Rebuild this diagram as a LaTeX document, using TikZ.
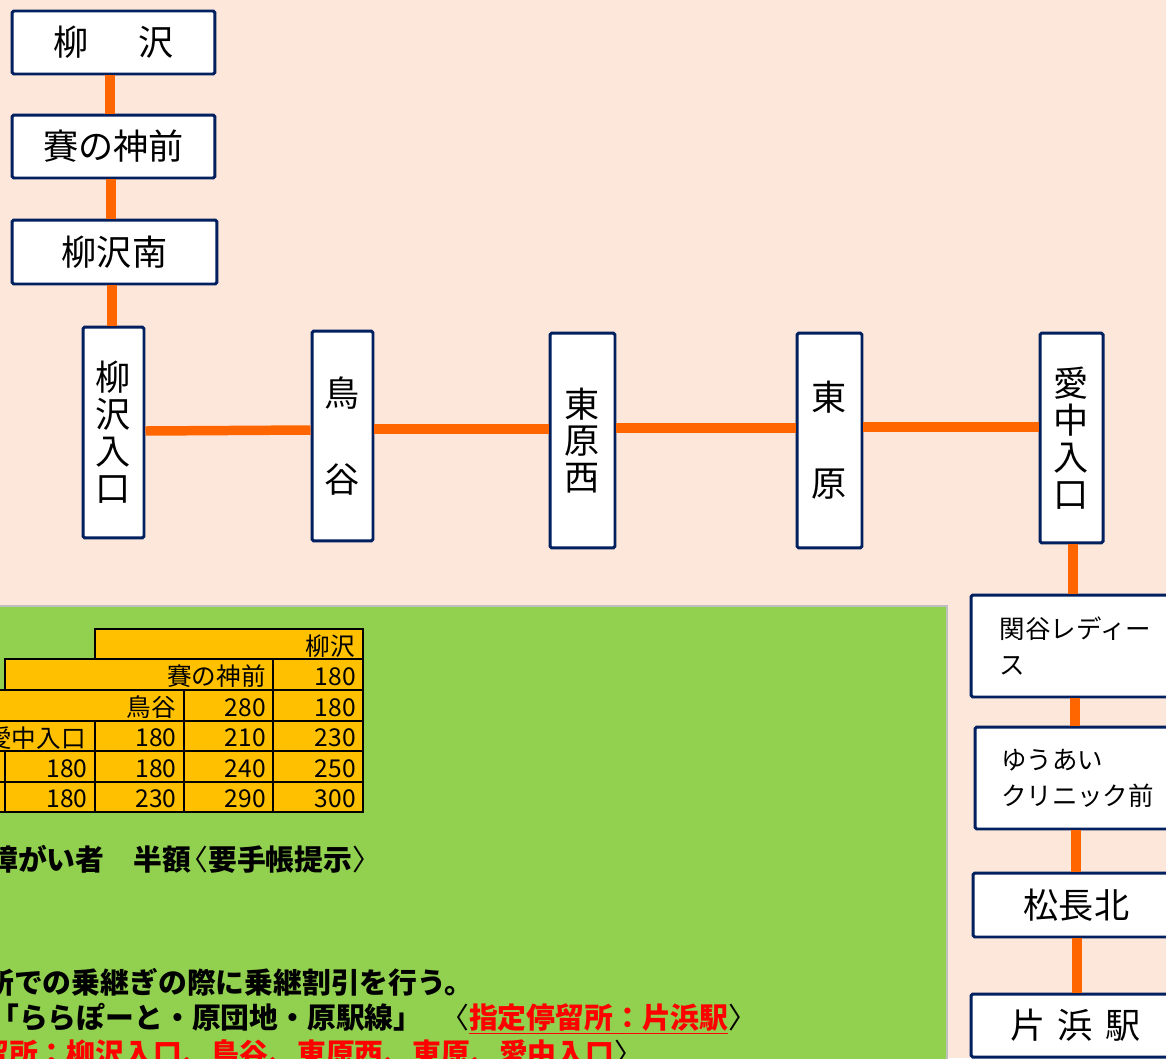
\documentclass[tikz,border=0pt]{standalone}
\usepackage{fontspec}
\setmainfont{Noto Sans CJK JP}
\definecolor{peach}{HTML}{FCE7DA}
\definecolor{panelgreen}{HTML}{92D050}
\definecolor{panelgray}{HTML}{BFBFBF}
\definecolor{tableorange}{HTML}{FFC000}
\definecolor{lineorange}{HTML}{FF6600}
\definecolor{navy}{HTML}{002060}
\begin{document}
\begin{tikzpicture}[x=0.02cm,y=-0.02cm,
    stopbox/.style={draw=navy,line width=1.7pt,fill=white,rounded corners=1pt,inner sep=0pt,align=center,font=\fontsize{20}{21}\selectfont},
    route/.style={draw=lineorange,line width=5.4pt},
    cell/.style={draw=black,line width=1.1pt,fill=tableorange},
    fare/.style={anchor=east,inner sep=0pt,font=\fontsize{14}{16}\selectfont},
    notetext/.style={anchor=base west,inner sep=0pt,font=\fontsize{16.4}{18}\selectfont\bfseries}]
    \useasboundingbox (0,0) rectangle (1166,1058);
    \clip (0,0) rectangle (1166,1058);
    \fill[peach] (0,0) rectangle (1166,1058);
    \draw[draw=panelgray,line width=1pt,fill=panelgreen] (-10,606) rectangle (947,1080);

    % stops
    \node[stopbox,minimum width=4.06cm,minimum height=1.26cm] (yz) at (113.5,42.5) {柳\hspace{1.4em}沢};
    \node[stopbox,minimum width=4.06cm,minimum height=1.26cm] (sai) at (113.5,146.5) {賽の神前};
    \node[stopbox,minimum width=4.1cm,minimum height=1.28cm] (yzm) at (114.5,252) {柳沢南};
    \node[stopbox,minimum width=1.22cm,minimum height=4.22cm] (yzi) at (113.5,432.5) {柳\\沢\\入\\口};
    \node[stopbox,minimum width=1.22cm,minimum height=4.2cm] (tor) at (342.5,436) {鳥\\[28pt]谷};
    \node[stopbox,minimum width=1.3cm,minimum height=4.3cm] (hhn) at (582.5,440.5) {東\\原\\西};
    \node[stopbox,minimum width=1.3cm,minimum height=4.3cm] (hig) at (829.5,440.5) {東\\[27.8pt]原};
    \node[stopbox,minimum width=1.26cm,minimum height=4.2cm] (aic) at (1071.5,438) {愛\\中\\入\\口};
    \node[stopbox,align=left,font=\fontsize{14.5}{20}\selectfont,minimum width=4.18cm,minimum height=2.04cm] (skt) at (1075.5,646) {関谷レディー\\ス};
    \node[stopbox,align=left,font=\fontsize{14.5}{20.4}\selectfont,minimum width=4.1cm,minimum height=2.04cm] (yua) at (1077.5,778) {ゆうあい\\クリニック前};
    \node[stopbox,minimum width=4.14cm,minimum height=1.28cm] (mtn) at (1076.5,905) {松長北};
    \node[stopbox,minimum width=4.18cm,minimum height=1.26cm] (kts) at (1075.5,1025.5) {片\hspace{.35em}浜\hspace{.35em}駅};

    % route
    \draw[route] (yz.south -| 110,0) -- (sai.north -| 110,0);
    \draw[route] (sai.south -| 111,0) -- (yzm.north -| 111,0);
    \draw[route] (yzm.south -| 112,0) -- (yzi.north -| 112,0);
    \draw[route] (yzi.east |- 0,431) -- (tor.west |- 0,430);
    \draw[route] (tor.east |- 0,429) -- (hhn.west |- 0,429);
    \draw[route] (hhn.east |- 0,428) -- (hig.west |- 0,428);
    \draw[route] (hig.east |- 0,427) -- (aic.west |- 0,427);
    \draw[route] (aic.south -| 1073,0) -- (skt.north -| 1073,0);
    \draw[route] (skt.south -| 1075,0) -- (yua.north -| 1075,0);
    \draw[route] (yua.south -| 1076,0) -- (mtn.north -| 1076,0);
    \draw[route] (mtn.south -| 1077,0) -- (kts.north -| 1077,0);

    % fare table
    \draw[cell] (95,629) rectangle (363,659);
    \node[fare] (h1) at (355,646) {柳沢};
    \draw[cell] (5,659) rectangle (273,690);
    \draw[cell] (273,659) rectangle (363,690);
    \node[fare] (h2) at (266,676.5) {賽の神前};
    \node[fare] (f24) at (356,676.5) {180};
    \draw[cell] (-10,690) rectangle (184,721);
    \draw[cell] (184,690) rectangle (273,721);
    \draw[cell] (273,690) rectangle (363,721);
    \node[fare] (h3) at (176,707.5) {鳥谷};
    \node[fare] (f33) at (266,707.5) {280};
    \node[fare] (f34) at (356,707.5) {180};
    \draw[cell] (-10,721) rectangle (95,751);
    \draw[cell] (95,721) rectangle (184,751);
    \draw[cell] (184,721) rectangle (273,751);
    \draw[cell] (273,721) rectangle (363,751);
    \node[fare] (h4) at (86,738) {愛中入口};
    \node[fare] (f42) at (177,738) {180};
    \node[fare] (f43) at (266,738) {210};
    \node[fare] (f44) at (356,738) {230};
    \draw[cell] (-10,751) rectangle (5,782);
    \draw[cell] (5,751) rectangle (95,782);
    \draw[cell] (95,751) rectangle (184,782);
    \draw[cell] (184,751) rectangle (273,782);
    \draw[cell] (273,751) rectangle (363,782);
    \node[fare] (f51) at (88,768.5) {180};
    \node[fare] (f52) at (177,768.5) {180};
    \node[fare] (f53) at (266,768.5) {240};
    \node[fare] (f54) at (356,768.5) {250};
    \draw[cell] (-10,782) rectangle (5,812);
    \draw[cell] (5,782) rectangle (95,812);
    \draw[cell] (95,782) rectangle (184,812);
    \draw[cell] (184,782) rectangle (273,812);
    \draw[cell] (273,782) rectangle (363,812);
    \node[fare] (f61) at (88,799) {180};
    \node[fare] (f62) at (177,799) {230};
    \node[fare] (f63) at (266,799) {290};
    \node[fare] (f64) at (356,799) {300};

    % notes
    \node[notetext] (n1) at (-11,870) {障がい者　半額{\mdseries\kern-.4em〈}要手帳提示{\mdseries 〉}};
    \node[notetext] (n2) at (-15,993) {所での乗継ぎの際に乗継割引を行う。};
    \node[notetext] (n3) at (-10,1028) {「ららぽーと・原団地・原駅線」};
    \node[notetext] (n3b) at (440,1028) {{\mdseries〈}{\color{red}\underline{指定停留所：片浜駅}}{\mdseries〉}};
    \node[notetext] (n4) at (-20,1064) {{\color{red}留所：柳沢入口、鳥谷、東原西、東原、愛中入口}{\mdseries〉}};
\end{tikzpicture}
\end{document}
